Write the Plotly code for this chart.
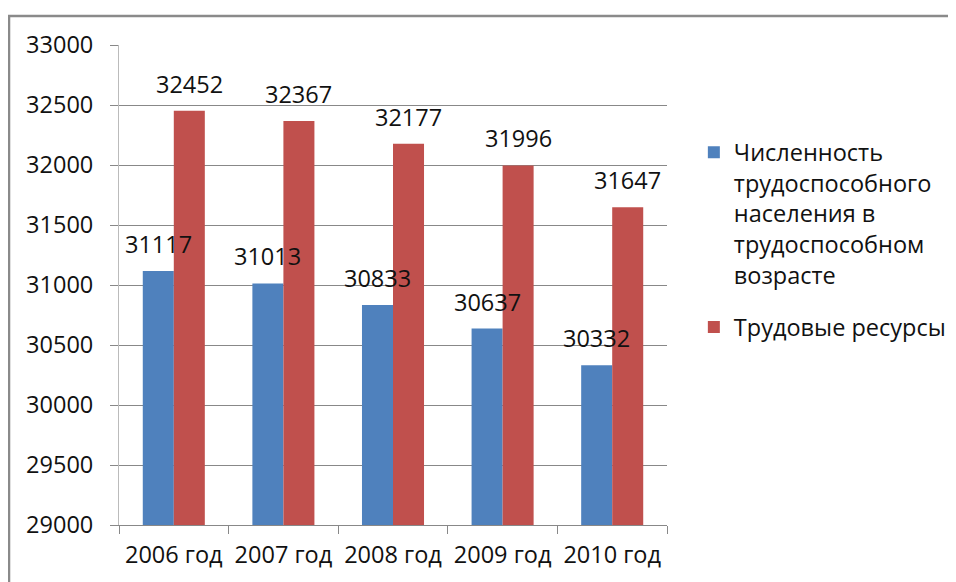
import plotly.graph_objects as go

# data
years = ["2006 год", "2007 год", "2008 год", "2009 год", "2010 год"]
working_age = [31117, 31013, 30833, 30637, 30332]
labour_resources = [32452, 32367, 32177, 31996, 31647]
y_ticks = [29000, 29500, 30000, 30500, 31000, 31500, 32000, 32500, 33000]

series_names = [
    "Численность<br>трудоспособного<br>населения в<br>трудоспособном<br>возрасте",
    "Трудовые ресурсы",
]
colors = ["#4F81BD", "#C0504D"]
font_family = "Open Sans, Liberation Sans, sans-serif"
fs = 23.5

fig = go.Figure()
for i, (vals, name, col) in enumerate(zip([working_age, labour_resources], series_names, colors)):
    fig.add_trace(
        go.Bar(
            x=years,
            y=vals,
            name=name,
            marker=dict(color=col, line=dict(width=0)),
            legendgroup=str(i),
        )
    )

# value labels above bars
annotations = []
for vals, shift in [(working_age, -15.5), (labour_resources, 15.5)]:
    for yr, v in zip(years, vals):
        annotations.append(
            dict(
                x=yr, y=v, xref="x", yref="y",
                text=str(v),
                showarrow=False,
                xshift=shift, yshift=27,
                yanchor="middle",
                font=dict(size=fs, color="#111"),
            )
        )

# the page body has an 8px margin, so margins are trimmed by 8px
fig.update_layout(
    width=956,
    height=582,
    margin=dict(l=111, r=297, t=37, b=65),
    paper_bgcolor="white",
    plot_bgcolor="white",
    font=dict(family=font_family, size=fs, color="#111"),
    barmode="group",
    bargap=0.434,
    bargroupgap=0,
    showlegend=True,
    legend=dict(
        x=1.049, y=0.822, xanchor="left", yanchor="top",
        valign="top",
        traceorder="grouped",
        tracegroupgap=19,
        font=dict(size=fs, color="#111"),
        bgcolor="rgba(0,0,0,0)",
    ),
    annotations=annotations,
    xaxis=dict(
        type="category",
        showgrid=False,
        showline=True, linecolor="#888", linewidth=1,
        ticks="outside", ticklen=8, tickcolor="#888",
        tickson="boundaries",
        ticklabelstandoff=9,
    ),
    yaxis=dict(
        range=[29000, 33000],
        tickvals=y_ticks,
        tickformat="d",
        showgrid=True, gridcolor="#888", gridwidth=1,
        showline=True, linecolor="#bbb", linewidth=1,
        ticks="outside", ticklen=8, tickcolor="#888",
        ticklabelstandoff=12,
        zeroline=False,
    ),
    shapes=[
        # outer chart border (cropped on the right and bottom)
        dict(
            type="rect", xref="paper", yref="paper",
            x0=-0.2007, x1=1.8, y0=-0.3, y1=1.0605,
            line=dict(color="#8a8a8a", width=2.5),
            fillcolor="rgba(0,0,0,0)",
            layer="below",
        )
    ],
)

fig.write_html("out.html")
